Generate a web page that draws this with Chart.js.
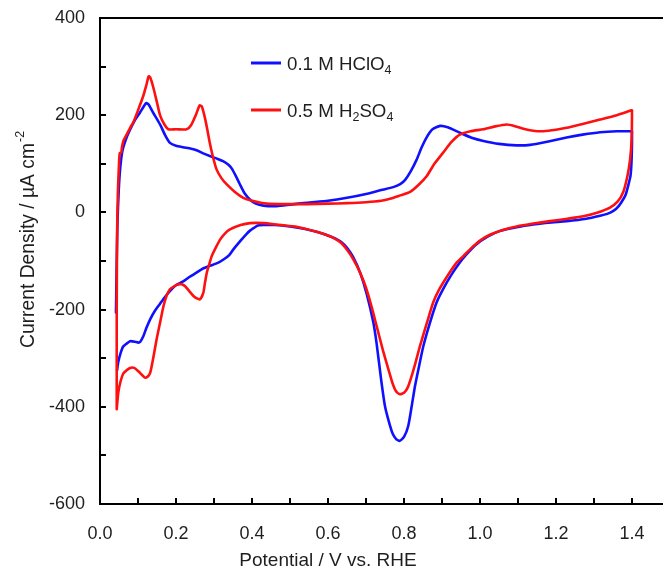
<!DOCTYPE html>
<html>
<head>
<meta charset="utf-8">
<script src="https://cdn.jsdelivr.net/npm/chart.js@4/dist/chart.umd.min.js"></script>
<style>
html,body{margin:0;padding:0;background:#fff;}
canvas{display:block;}
</style>
</head>
<body>
<canvas id="c" width="663" height="577"></canvas>
<script>
// ---- Data ----
const seriesNames = ["0.1 M HClO", "0.5 M H"];
const xTickValues = [0.0, 0.2, 0.4, 0.6, 0.8, 1.0, 1.2, 1.4];
const yTickValues = [-600, -400, -200, 0, 200, 400];

// 0.1 M HClO4 (blue), potential / V
const blueX = [0.042,0.044,0.046,0.049,0.052,0.056,0.060,0.068,0.079,0.092,0.105,0.115,0.122,0.128,0.140,0.150,0.160,0.172,0.184,0.200,0.219,0.240,0.254,0.270,0.289,0.310,0.325,0.338,0.347,0.358,0.368,0.380,0.395,0.410,0.430,0.465,0.500,0.544,0.600,0.650,0.700,0.740,0.772,0.790,0.803,0.818,0.833,0.846,0.860,0.875,0.895,0.915,0.947,0.980,1.009,1.050,1.096,1.132,1.180,1.228,1.270,1.316,1.360,1.398,
1.400,1.399,1.396,1.390,1.384,1.377,1.365,1.351,1.335,1.316,1.280,1.228,1.180,1.140,1.100,1.053,1.020,0.990,0.965,0.945,0.925,0.905,0.886,0.868,0.851,0.840,0.829,0.820,0.811,0.800,0.789,0.780,0.770,0.760,0.750,0.740,0.728,0.719,0.702,0.685,0.667,0.650,0.635,0.620,0.605,0.570,0.540,0.500,0.460,0.430,0.415,0.405,0.394,0.386,0.370,0.351,0.340,0.325,0.310,0.289,0.270,0.254,0.235,0.219,0.200,0.184,0.170,0.158,0.145,0.132,0.122,0.114,0.106,0.101,0.092,0.079,0.070,0.061,0.054,0.048,0.045];
// current density / µA cm-2
const blueY = [-206,-100,-20,40,80,112,130,150,170,190,205,218,225,222,205,192,178,158,143,137,134,131,128,122,116,110,105,98,90,74,58,40,26,18,14,13,16,20,24,30,38,46,52,58,67,85,108,133,155,171,178,175,164,153,147,141,138,139,146,154,160,165,167,167,
167,110,75,55,38,27,13,3,-3,-7,-13,-18,-21,-25,-30,-38,-50,-66,-86,-105,-128,-155,-185,-228,-275,-315,-357,-400,-440,-462,-470,-467,-455,-430,-399,-345,-270,-225,-168,-125,-93,-73,-61,-54,-49,-40,-34,-29,-26,-26,-27,-32,-38,-44,-58,-76,-88,-97,-104,-110,-116,-124,-133,-142,-150,-162,-175,-188,-202,-220,-238,-255,-266,-268,-266,-265,-270,-276,-290,-308,-325];

// 0.5 M H2SO4 (red), potential / V
const redX = [0.044,0.044,0.045,0.047,0.050,0.052,0.056,0.058,0.062,0.070,0.080,0.088,0.100,0.114,0.122,0.128,0.132,0.140,0.150,0.158,0.168,0.180,0.200,0.228,0.240,0.252,0.262,0.268,0.276,0.283,0.289,0.298,0.307,0.320,0.333,0.355,0.377,0.400,0.439,0.500,0.544,0.600,0.650,0.700,0.740,0.763,0.790,0.816,0.840,0.860,0.880,0.903,0.925,0.947,0.975,1.009,1.040,1.070,1.090,1.114,1.140,1.167,1.200,1.228,1.270,1.316,1.360,1.399,
1.400,1.399,1.395,1.388,1.377,1.362,1.342,1.310,1.272,1.230,1.184,1.140,1.096,1.060,1.026,1.000,0.975,0.956,0.939,0.925,0.910,0.893,0.877,0.860,0.842,0.830,0.820,0.810,0.800,0.789,0.779,0.770,0.759,0.745,0.728,0.715,0.700,0.685,0.667,0.650,0.635,0.620,0.605,0.570,0.520,0.465,0.430,0.395,0.370,0.342,0.328,0.316,0.305,0.294,0.287,0.281,0.276,0.272,0.263,0.255,0.246,0.235,0.224,0.215,0.206,0.195,0.184,0.175,0.167,0.158,0.149,0.140,0.132,0.125,0.118,0.110,0.101,0.090,0.079,0.070,0.061,0.054,0.048,0.044];
const redY = [-405,-200,-42,40,100,122,123,135,148,160,175,186,210,240,262,280,278,258,226,200,183,171,171,171,180,200,220,218,195,168,143,112,88,70,58,42,30,24,18,17,17,18,19,21,24,28,35,42,58,75,100,123,145,160,167,171,177,181,178,172,168,167,170,174,182,191,200,210,
210,150,109,75,42,22,10,0,-8,-13,-18,-23,-29,-36,-46,-58,-75,-90,-103,-118,-136,-158,-185,-228,-275,-310,-337,-360,-371,-374,-368,-352,-323,-285,-234,-195,-155,-125,-97,-77,-63,-55,-49,-40,-30,-25,-22,-22,-26,-35,-44,-56,-72,-90,-108,-124,-146,-165,-179,-177,-172,-162,-152,-148,-148,-152,-158,-172,-193,-227,-261,-300,-330,-338,-340,-334,-327,-320,-320,-325,-332,-348,-371,-405];

const pts = (xs, ys) => xs.map((x, i) => ({x: x, y: ys[i]}));

const BLUE = '#1010ff';
const RED = '#ff1010';
const TXT = '#1e1e1e';
const FONT = '"Liberation Sans", Arial, sans-serif';

// custom decorations: inward ticks, top frame, legend with subscripts, axis titles with superscript
const deco = {
  id: 'deco',
  afterDraw(chart) {
    const ctx = chart.ctx;
    const a = chart.chartArea;
    const xs = chart.scales.x, ys = chart.scales.y;
    ctx.save();
    ctx.strokeStyle = '#000';
    ctx.lineWidth = 2;
    // top frame line
    ctx.beginPath();
    ctx.moveTo(a.left - 1, a.top);
    ctx.lineTo(chart.width, a.top);
    ctx.stroke();
    // inward tick marks
    ctx.beginPath();
    ys.ticks.forEach(t => {
      const p = Math.round(ys.getPixelForValue(t.value));
      if (t.value > ys.min && t.value < ys.max) {
        ctx.moveTo(a.left, p); ctx.lineTo(a.left + 6, p);
      }
    });
    xs.ticks.forEach(t => {
      const p = Math.round(xs.getPixelForValue(t.value));
      if (t.value > xs.min + 1e-6) {
        ctx.moveTo(p, a.bottom); ctx.lineTo(p, a.bottom - 6);
      }
    });
    ctx.stroke();

    // legend
    const entries = [
      {color: BLUE, main: seriesNames[0], sub: '4', rest: '', y: 70},
      {color: RED, main: seriesNames[1], sub: '2', rest: 'SO', sub2: '4', y: 117}
    ];
    ctx.fillStyle = TXT;
    ctx.textBaseline = 'alphabetic';
    ctx.textAlign = 'left';
    entries.forEach(e => {
      ctx.strokeStyle = e.color;
      ctx.lineWidth = 3;
      ctx.beginPath();
      ctx.moveTo(251, e.y - 7); ctx.lineTo(281, e.y - 7);
      ctx.stroke();
      let x = 287;
      ctx.font = '18.7px ' + FONT;
      ctx.fillText(e.main, x, e.y); x += ctx.measureText(e.main).width;
      ctx.font = '12.5px ' + FONT;
      ctx.fillText(e.sub, x, e.y + 4); x += ctx.measureText(e.sub).width;
      if (e.rest) {
        ctx.font = '18.7px ' + FONT;
        ctx.fillText(e.rest, x, e.y); x += ctx.measureText(e.rest).width;
        ctx.font = '12.5px ' + FONT;
        ctx.fillText(e.sub2, x, e.y + 4);
      }
    });

    // x axis title
    ctx.font = '19px ' + FONT;
    ctx.textAlign = 'center';
    ctx.fillText('Potential / V vs. RHE', 328, 566);

    // y axis title (rotated, with superscript)
    ctx.save();
    ctx.translate(34, 348);
    ctx.rotate(-Math.PI / 2);
    ctx.textAlign = 'left';
    const main = 'Current Density / \u00B5A cm';
    ctx.font = '19.3px ' + FONT;
    ctx.fillText(main, 0, 0);
    const w = ctx.measureText(main).width;
    ctx.font = '12.5px ' + FONT;
    ctx.fillText('-2', w + 1, -10);
    ctx.restore();

    ctx.restore();
  }
};

new Chart(document.getElementById('c'), {
  type: 'scatter',
  data: {
    datasets: [
      {label: '0.5 M H2SO4', data: pts(redX, redY), borderColor: RED, backgroundColor: RED},
      {label: '0.1 M HClO4', data: pts(blueX, blueY), borderColor: BLUE, backgroundColor: BLUE}
    ]
  },
  options: {
    responsive: false,
    animation: false,
    devicePixelRatio: 1,
    showLine: true,
    elements: {
      point: {radius: 0, hoverRadius: 0},
      line: {borderWidth: 2.6, tension: 0.2, borderJoinStyle: 'round', borderCapStyle: 'round', fill: false}
    },
    layout: {padding: {top: 18, right: 0, left: 0, bottom: 0}},
    plugins: {legend: {display: false}, tooltip: {enabled: false}, title: {display: false}},
    scales: {
      x: {
        type: 'linear',
        min: 0,
        max: 1.4816,
        afterFit(s) { s.height = 73; s.paddingLeft = 0; s.paddingRight = 0; },
        ticks: {
          stepSize: 0.1,
          includeBounds: false,
          autoSkip: false,
          maxRotation: 0,
          padding: 19,
          color: TXT,
          font: {family: FONT, size: 18},
          callback: (v) => {
            const k = Math.round(v * 10);
            return xTickValues.some(t => Math.round(t * 10) === k) ? (k / 10).toFixed(1) : '';
          }
        },
        grid: {display: true, drawOnChartArea: false, drawTicks: false},
        border: {display: true, color: '#000', width: 2}
      },
      y: {
        type: 'linear',
        min: -600,
        max: 400,
        afterFit(s) { s.width = 100; s.paddingTop = 0; s.paddingBottom = 0; },
        ticks: {
          stepSize: 100,
          autoSkip: false,
          padding: 15,
          color: TXT,
          font: {family: FONT, size: 18},
          callback: (v) => yTickValues.includes(Math.round(v)) ? String(Math.round(v)) : ''
        },
        grid: {display: true, drawOnChartArea: false, drawTicks: false},
        border: {display: true, color: '#000', width: 2}
      }
    }
  },
  plugins: [deco]
});
</script>
</body>
</html>
